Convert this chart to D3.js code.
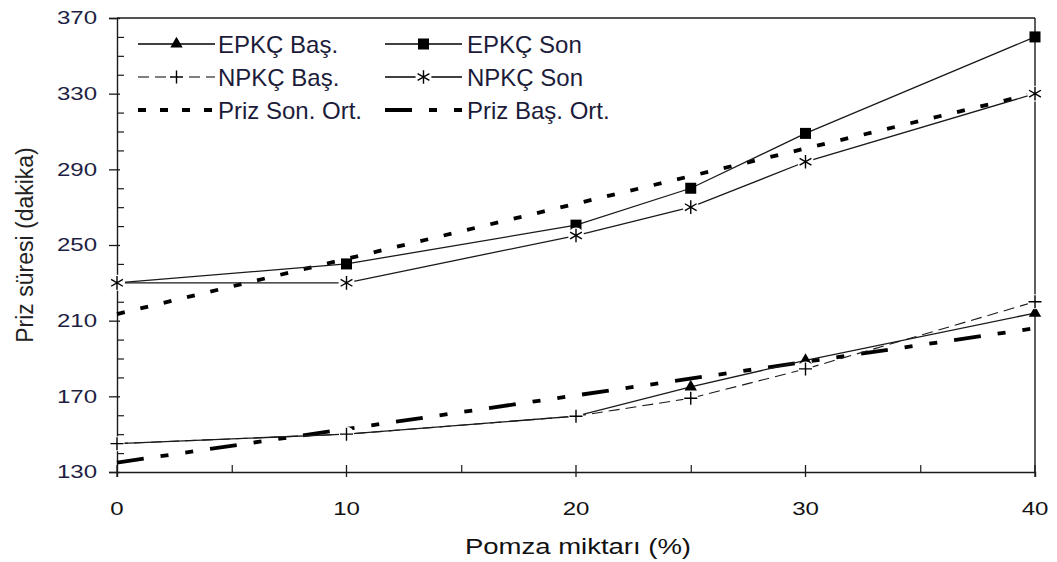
<!DOCTYPE html>
<html><head><meta charset="utf-8">
<script src="https://cdn.jsdelivr.net/npm/d3@7"></script>
<style>body{margin:0;background:#fff}</style></head><body>
<svg id="c" width="1057" height="562"></svg>
<script>
// ---- data ----
const pomza = [0, 10, 20, 25, 30, 40];
const epkcBas = [145, 150, 159.5, 175, 189, 214];
const npkcBas = [145, 150, 159.5, 169, 184.5, 220];
const epkcSon = [230, 240, 260.5, 280, 309, 360];
const npkcSon = [230, 230, 255, 270, 294, 330];
const trendX = [0, 40];
const prizSonOrt = [213.5, 330.2];
const prizBasOrt = [135, 206];
const xMajor = [0, 10, 20, 30, 40];
const xMinor = [5, 15, 25, 35];
const yMajor = [130, 170, 210, 250, 290, 330, 370];
const yMinor = [140,150,160,180,190,200,220,230,240,260,270,280,300,310,320,340,350,360];
const legendLabels = ["EPKÇ Baş.", "EPKÇ Son", "NPKÇ Baş.", "NPKÇ Son", "Priz Son. Ort.", "Priz Baş. Ort."];

const svg = d3.select("#c");
const x = d3.scaleLinear().domain([0, 40]).range([117, 1035]);
const y = d3.scaleLinear().domain([130, 370]).range([472, 18]);
const ink = "#1a1a1a";
const tickFont = "'Liberation Sans', Arial, sans-serif";
const SX = 1.3;

// frame top & right
svg.append("line").attr("x1", x(0)).attr("x2", x(40)).attr("y1", y(370)).attr("y2", y(370))
  .attr("stroke", ink).attr("stroke-width", 1.4);
svg.append("line").attr("x1", x(40)).attr("x2", x(40)).attr("y1", y(370)).attr("y2", y(130))
  .attr("stroke", ink).attr("stroke-width", 1.4);

// y axis
const gy = svg.append("g").attr("transform", `translate(${x(0)},0)`)
  .call(d3.axisLeft(y).tickValues(yMajor).tickSize(8).tickFormat(d3.format("d")));
gy.select(".domain").attr("stroke", ink).attr("stroke-width", 1.4);
gy.selectAll(".tick line").attr("x1", 3).attr("x2", -8).attr("stroke", ink).attr("stroke-width", 1.3);
gy.selectAll(".tick text").attr("x", -20 / SX).attr("transform", `scale(${SX},1)`)
  .attr("font-family", tickFont).attr("font-size", 18.5).attr("fill", "#1e1e44");
const gyMin = svg.append("g").attr("transform", `translate(${x(0)},0)`)
  .call(d3.axisRight(y).tickValues(yMinor).tickSize(7).tickFormat(""));
gyMin.select(".domain").remove();
gyMin.selectAll(".tick line").attr("stroke", ink).attr("stroke-width", 1.2);

// x axis
const gx = svg.append("g").attr("transform", `translate(0,${y(130)})`)
  .call(d3.axisBottom(x).tickValues(xMajor).tickSize(5).tickFormat(d3.format("d")));
gx.select(".domain").attr("stroke", ink).attr("stroke-width", 1.4);
gx.selectAll(".tick line").attr("y1", -7).attr("y2", 5).attr("stroke", ink).attr("stroke-width", 1.3);
gx.selectAll(".tick text").attr("y", 30).attr("transform", `scale(${SX},1)`)
  .attr("font-family", tickFont).attr("font-size", 18.5).attr("fill", "#111");
gx.selectAll(".tick").each(function(d){
  d3.select(this).attr("transform", `translate(${x(d)},0)`);
  d3.select(this).select("text").attr("x", 0);
});
const gxMin = svg.append("g").attr("transform", `translate(0,${y(130)})`)
  .call(d3.axisTop(x).tickValues(xMinor).tickSize(7).tickFormat(""));
gxMin.select(".domain").remove();
gxMin.selectAll(".tick line").attr("stroke", ink).attr("stroke-width", 1.2);

// axis titles
svg.append("text").attr("transform", `translate(25,245) rotate(-90)`)
  .attr("text-anchor", "middle").attr("dominant-baseline", "central")
  .attr("font-family", tickFont).attr("font-size", 23).attr("fill", "#222")
  .text("Priz süresi (dakika)");
svg.append("text").attr("transform", `translate(578,546) scale(1.25,1)`)
  .attr("text-anchor", "middle").attr("dominant-baseline", "central")
  .attr("font-family", tickFont).attr("font-size", 22).attr("fill", "#111")
  .text("Pomza miktarı (%)");

// ---- lines ----
const dashSon = "8,16";
const dashBas = "27,17,8,17,8,17";
const line = d3.line().x(d => x(d[0])).y(d => y(d[1]));
const zip = (xs, ys) => xs.map((v, i) => [v, ys[i]]);

svg.append("path").attr("d", line(zip(trendX, prizSonOrt))).attr("fill", "none")
  .attr("stroke", "#000").attr("stroke-width", 3.8).attr("stroke-dasharray", dashSon);
svg.append("path").attr("d", line(zip(trendX, prizBasOrt))).attr("fill", "none")
  .attr("stroke", "#000").attr("stroke-width", 3.8).attr("stroke-dasharray", dashBas);

svg.append("path").attr("d", line(zip(pomza, epkcBas))).attr("fill", "none")
  .attr("stroke", ink).attr("stroke-width", 1.3);
svg.append("path").attr("d", line(zip(pomza, epkcSon))).attr("fill", "none")
  .attr("stroke", ink).attr("stroke-width", 1.3);
svg.append("path").attr("d", line(zip(pomza, npkcBas))).attr("fill", "none")
  .attr("stroke", ink).attr("stroke-width", 1.1).attr("stroke-dasharray", "11,6");
svg.append("path").attr("d", line(zip(pomza, npkcSon))).attr("fill", "none")
  .attr("stroke", ink).attr("stroke-width", 1.3);

// ---- markers ----
function triangle(g, cx, cy) {
  g.append("path").attr("d", d3.symbol(d3.symbolTriangle, 66)())
    .attr("transform", `translate(${cx},${cy})`).attr("fill", "#000");
}
function square(g, cx, cy) {
  g.append("rect").attr("x", cx - 5.5).attr("y", cy - 5.5).attr("width", 11).attr("height", 11).attr("fill", "#000");
}
function plus(g, cx, cy) {
  g.append("circle").attr("cx", cx).attr("cy", cy).attr("r", 7.5).attr("fill", "#fff");
  g.append("path").attr("d", `M${cx-6.5},${cy}H${cx+6.5}M${cx},${cy-6.5}V${cy+6.5}`)
    .attr("stroke", "#000").attr("stroke-width", 1.4);
}
function aster(g, cx, cy) {
  g.append("circle").attr("cx", cx).attr("cy", cy).attr("r", 8).attr("fill", "#fff");
  const r = 6.8, a = r * Math.cos(Math.PI / 6), b = r * Math.sin(Math.PI / 6);
  g.append("path").attr("d",
    `M${cx},${cy-r}V${cy+r}M${cx-a},${cy-b}L${cx+a},${cy+b}M${cx-a},${cy+b}L${cx+a},${cy-b}`)
    .attr("stroke", "#000").attr("stroke-width", 1.4);
}
const gm = svg.append("g");
pomza.forEach((p, i) => triangle(gm, x(p), y(epkcBas[i])));
pomza.forEach((p, i) => square(gm, x(p), y(epkcSon[i])));
pomza.forEach((p, i) => plus(gm, x(p), y(npkcBas[i])));
pomza.forEach((p, i) => aster(gm, x(p), y(npkcSon[i])));

// ---- legend ----
const lg = svg.append("g");
const rows = [44, 77, 110];
const c1 = [138, 215, 218], c2 = [385, 462, 467];
function legText(tx, ty, t) {
  lg.append("text").attr("x", tx).attr("y", ty).attr("dominant-baseline", "central")
    .attr("font-family", tickFont).attr("font-size", 24).attr("fill", "#1c1c3a").text(t);
}
function legLine(x1, x2, ty, w, dash) {
  const l = lg.append("line").attr("x1", x1).attr("x2", x2).attr("y1", ty).attr("y2", ty)
    .attr("stroke", "#000").attr("stroke-width", w);
  if (dash) l.attr("stroke-dasharray", dash);
}
legLine(c1[0], c1[1], rows[0], 1.3); triangle(lg, (c1[0] + c1[1]) / 2, rows[0]); legText(c1[2], rows[0], legendLabels[0]);
legLine(c2[0], c2[1], rows[0], 1.3); square(lg, (c2[0] + c2[1]) / 2, rows[0]); legText(c2[2], rows[0], legendLabels[1]);
legLine(c1[0], c1[1], rows[1], 1.1, "11,6"); plus(lg, (c1[0] + c1[1]) / 2, rows[1]); legText(c1[2], rows[1], legendLabels[2]);
legLine(c2[0], c2[1], rows[1], 1.3); aster(lg, (c2[0] + c2[1]) / 2, rows[1]); legText(c2[2], rows[1], legendLabels[3]);
legLine(c1[0], c1[1], rows[2], 3.8, "8,14"); legText(c1[2], rows[2], legendLabels[4]);
legLine(c2[0], c2[1], rows[2], 3.8, dashBas); legText(c2[2], rows[2], legendLabels[5]);
</script>
</body></html>
